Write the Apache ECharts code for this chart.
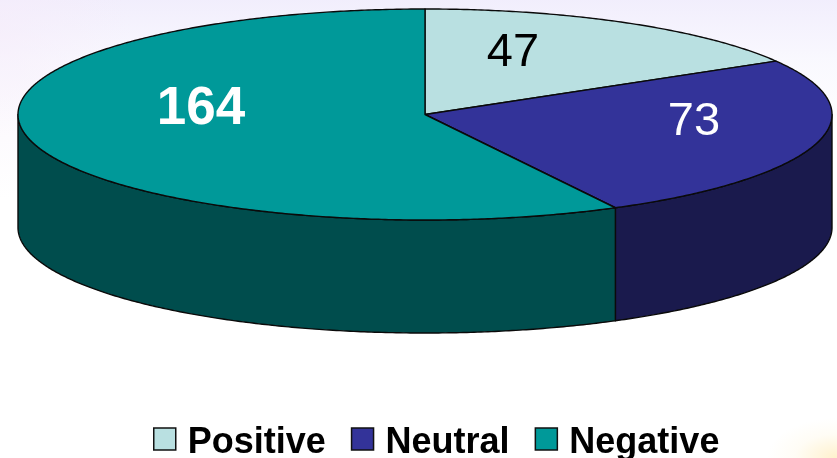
<!DOCTYPE html>
<html><head><meta charset="utf-8">
<style>
html,body{margin:0;padding:0;width:837px;height:458px;overflow:hidden;
background:
 radial-gradient(ellipse 70px 40px at 837px 458px, rgba(255,232,170,.6), rgba(255,244,215,.25) 60%, rgba(255,255,255,0) 100%),
 radial-gradient(ellipse 130px 170px at 0 30px, rgba(246,236,250,.6), rgba(255,255,255,0) 100%),
 linear-gradient(to bottom, rgba(240,236,252,.9) 0, rgba(246,245,254,.65) 60px, rgba(255,255,255,0) 135px),
 #fff;}
#c{width:837px;height:458px}
</style>
<script src="https://cdn.jsdelivr.net/npm/echarts@6/dist/echarts.min.js"></script>
</head><body><div id="c"></div>
<script>
const categories = ['Positive', 'Neutral', 'Negative'];
const values = [47, 73, 164];
const topColors = ['#b9e0e1', '#333399', '#009999'];
const sideColors = ['#5c7070', '#1a1a4d', '#004d4d'];
const labelColors = ['#000000', '#ffffff', '#ffffff'];
const labelWeights = ['normal', 'normal', 'bold'];
const labelSizes = [47, 47, 53];
const labelCentres = [[513, 53], [694, 122], [201, 109]];

const cx = 425, cy = 114.5, rx = 407, ry = 105.5, depth = 113;
const total = values.reduce((a, b) => a + b, 0);
const pt = (deg, dy) => {
  const r = deg * Math.PI / 180;
  return [cx + rx * Math.sin(r), cy - ry * Math.cos(r) + (dy || 0)];
};
const arc = (a, b, dy) => {
  const out = [], n = Math.max(2, Math.ceil((b - a) * 2));
  for (let i = 0; i <= n; i++) out.push(pt(a + (b - a) * i / n, dy));
  return out;
};

function makeSeries(i) {
  const before = values.slice(0, i).reduce((a, b) => a + b, 0);
  return {
    type: 'custom', name: categories[i], coordinateSystem: 'none',
    itemStyle: { color: topColors[i] },
    data: [[values[i]]],
    silent: true,
    renderItem(params, api) {
      const a0 = before / total * 360;
      const a1 = a0 + api.value(0) / total * 360;
      const edge = { stroke: '#0a0a0a', lineWidth: 1.4, lineJoin: 'round' };
      const children = [];
      const s0 = Math.max(a0, 90), s1 = Math.min(a1, 270);
      if (s1 > s0) {
        children.push({
          type: 'polygon',
          shape: { points: arc(s0, s1, 0).concat(arc(s0, s1, depth).reverse()) },
          style: Object.assign({ fill: sideColors[i] }, edge)
        });
      }
      children.push({
        type: 'polygon',
        shape: { points: [[cx, cy]].concat(arc(a0, a1, 0)) },
        style: Object.assign({ fill: topColors[i] }, edge)
      });
      children.push({
        type: 'text',
        style: {
          text: String(api.value(0)),
          x: labelCentres[i][0], y: labelCentres[i][1],
          fill: labelColors[i], align: 'center', verticalAlign: 'middle',
          font: labelWeights[i] + ' ' + labelSizes[i] + 'px "Liberation Sans"'
        }
      });
      return { type: 'group', children };
    }
  };
}

const chart = echarts.init(document.getElementById('c'), null, { renderer: 'canvas' });
chart.setOption({
  animation: false,
  backgroundColor: 'transparent',
  legend: {
    data: categories, left: 153, top: 425, icon: 'rect',
    itemWidth: 22, itemHeight: 22, itemGap: 25,
    itemStyle: { borderColor: '#111', borderWidth: 1.5 },
    formatter: '{t|{name}}',
    textStyle: {
      color: '#000',
      rich: { t: { fontFamily: '"Liberation Sans"', fontWeight: 'bold', fontSize: 36, color: '#000', padding: [8, 0, 0, 7] } }
    },
    padding: 0, selectedMode: false
  },
  series: categories.map((c, i) => makeSeries(i))
});
</script></body></html>
